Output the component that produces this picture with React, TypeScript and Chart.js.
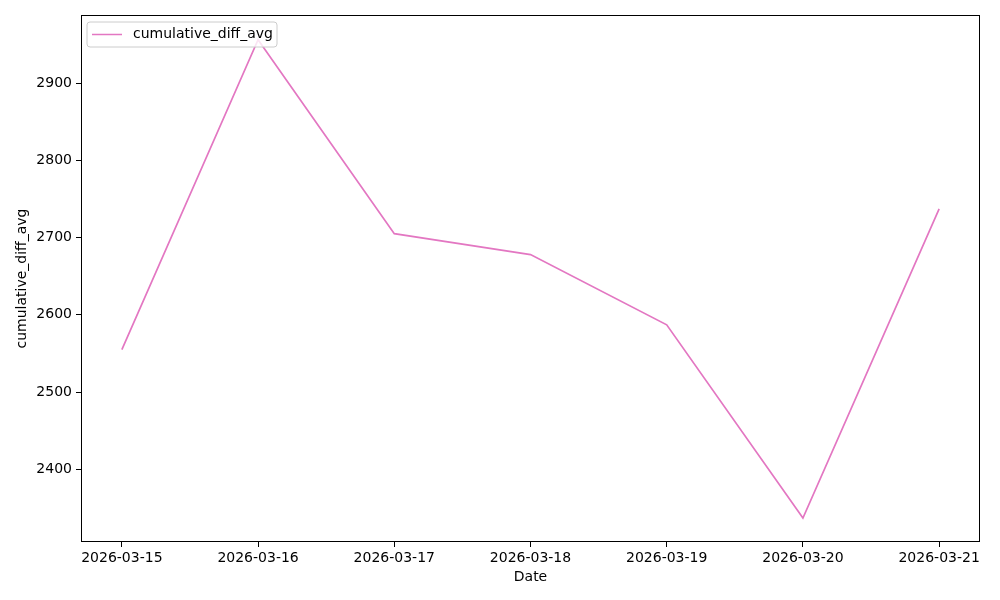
import React, { useEffect, useRef } from "react";
import { Chart, registerables } from "chart.js";

Chart.register(...registerables);

const categories = ["2026-03-15", "2026-03-16", "2026-03-17", "2026-03-18", "2026-03-19", "2026-03-20", "2026-03-21"];
const seriesValues = [2555, 2956, 2705, 2678, 2587, 2337, 2737];
const yTickValues = [2400, 2500, 2600, 2700, 2800, 2900];
const seriesLabel = "cumulative_diff_avg";
const xTitle = "Date";
const yTitle = "cumulative_diff_avg";

const FONT = "'DejaVu Sans', sans-serif";
const COLOR = "#e377c2";

const frameAndLegend = {
  id: "frameAndLegend",
  afterDraw(chart: any) {
    const { ctx, chartArea } = chart;
    ctx.save();
    ctx.strokeStyle = "#000";
    ctx.lineWidth = 1;
    ctx.strokeRect(
      Math.round(chartArea.left) + 0.5,
      Math.round(chartArea.top) + 0.5,
      Math.round(chartArea.right - chartArea.left) - 1,
      Math.round(chartArea.bottom - chartArea.top) - 1
    );
    // legend
    const x = chartArea.left + 6;
    const y = chartArea.top + 7;
    const w = 190;
    const h = 25;
    const r = 3;
    ctx.beginPath();
    ctx.moveTo(x + r, y);
    ctx.lineTo(x + w - r, y);
    ctx.quadraticCurveTo(x + w, y, x + w, y + r);
    ctx.lineTo(x + w, y + h - r);
    ctx.quadraticCurveTo(x + w, y + h, x + w - r, y + h);
    ctx.lineTo(x + r, y + h);
    ctx.quadraticCurveTo(x, y + h, x, y + h - r);
    ctx.lineTo(x, y + r);
    ctx.quadraticCurveTo(x, y, x + r, y);
    ctx.closePath();
    ctx.fillStyle = "rgba(255,255,255,0.8)";
    ctx.fill();
    ctx.strokeStyle = "#cccccc";
    ctx.stroke();
    ctx.beginPath();
    ctx.strokeStyle = COLOR;
    ctx.lineWidth = 1.5;
    ctx.moveTo(x + 5, y + 12.5);
    ctx.lineTo(x + 35, y + 12.5);
    ctx.stroke();
    ctx.fillStyle = "#000";
    ctx.font = "14px " + FONT;
    ctx.textBaseline = "middle";
    ctx.textAlign = "left";
    ctx.fillText(chart.data.datasets[0].label, x + 46, y + 12.5);
    ctx.restore();
  },
};

export default function App() {
  const ref = useRef<HTMLCanvasElement>(null);
  useEffect(() => {
    const chart = new Chart(ref.current!, {
      type: "line",
      data: {
        datasets: [
          {
            label: seriesLabel,
            data: seriesValues.map((v, i) => ({ x: i, y: v })),
            borderColor: COLOR,
            backgroundColor: COLOR,
            borderWidth: 1.7,
            pointRadius: 0,
            tension: 0,
          },
        ],
      },
      options: {
        animation: false,
        responsive: false,
        layout: { padding: { left: 0, right: 20, top: 15, bottom: 0 } },
        plugins: { legend: { display: false }, tooltip: { enabled: false } },
        scales: {
          x: {
            type: "linear",
            min: -0.3,
            max: categories.length - 1 + 0.3,
            afterBuildTicks: (s: any) => {
              s.ticks = categories.map((_, i) => ({ value: i }));
            },
            afterFit: (s: any) => {
              s.height = 58;
            },
            ticks: {
              autoSkip: false,
              maxRotation: 0,
              color: "#000",
              font: { family: FONT, size: 14 },
              padding: 3,
              callback: (v: any) => categories[v as number] ?? "",
            },
            grid: { display: true, drawOnChartArea: false, drawTicks: true, tickLength: 5, color: "#000" },
            border: { display: false },
            title: { display: true, text: xTitle, color: "#000", font: { family: FONT, size: 14 }, padding: { top: 4, bottom: 14 } },
          },
          y: {
            type: "linear",
            min: 2306,
            max: 2988,
            afterBuildTicks: (s: any) => {
              s.ticks = yTickValues.map((v) => ({ value: v }));
            },
            afterFit: (s: any) => {
              s.width = 81;
            },
            ticks: {
              color: "#000",
              font: { family: FONT, size: 14 },
              padding: 4,
              callback: (v: any) => String(v),
            },
            grid: { display: true, drawOnChartArea: false, drawTicks: true, tickLength: 5, color: "#000" },
            border: { display: false },
            title: { display: true, text: yTitle, color: "#000", font: { family: FONT, size: 14 }, padding: { top: 14, bottom: 4 } },
          },
        },
      },
      plugins: [frameAndLegend],
    });
    return () => chart.destroy();
  }, []);
  return (
    <div style={{ position: "fixed", left: 0, top: 0, width: 1000, height: 600, background: "#fff" }}>
      <canvas ref={ref} width={1000} height={600} style={{ width: 1000, height: 600 }} />
    </div>
  );
}
